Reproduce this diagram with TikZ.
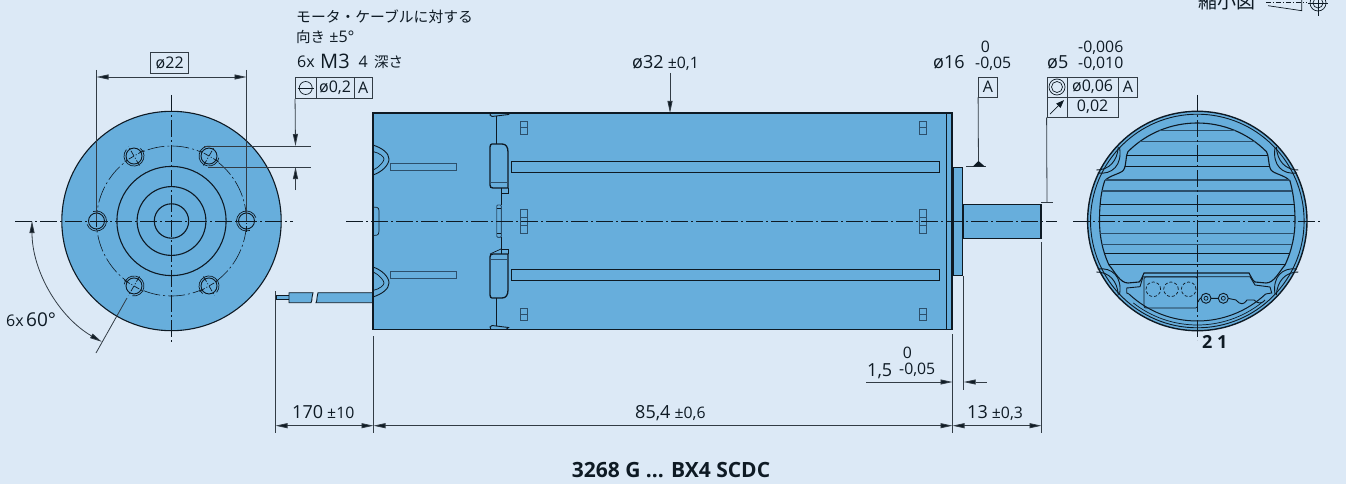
\documentclass[tikz,border=0pt]{standalone}
\usepackage{fontspec}
\setmainfont{Open Sans}
\newfontfamily\jpfont{Noto Sans CJK JP}
\usetikzlibrary{arrows.meta,calc,positioning}
\definecolor{sheet}{HTML}{DCE9F6}
\definecolor{motor}{HTML}{67AEDC}
\definecolor{ink}{HTML}{0E1A24}
\definecolor{fingray}{HTML}{2C4F6B}
\newcommand{\nomval}[1]{{\fontsize{18}{18}\selectfont #1}}
\newcommand{\tolval}[1]{{\fontsize{15.8}{16}\selectfont #1}}
\newcommand{\finpath}{(1127.9,151.7) arc[start angle=135,end angle=45,radius=98pt]
  .. controls (1269,155) and (1268,165) .. (1271,170) .. controls (1274,174) and (1285,175) .. (1290,181)
  .. controls (1294,195) and (1295,210) .. (1295,221) .. controls (1295,235) and (1292,250) .. (1285,265)
  .. controls (1279,272) and (1274,283) .. (1266,283) -- (1255,282) .. controls (1252,280) and (1251,276) .. (1249,273)
  -- (1144,273) .. controls (1142,276) and (1142,280) .. (1139,282) -- (1128,283)
  .. controls (1120,283) and (1115,272) .. (1109,265) .. controls (1102,250) and (1099.5,235) .. (1099.5,221)
  .. controls (1099.5,210) and (1100,195) .. (1104.6,181) .. controls (1109.6,175) and (1120.6,174) .. (1123.6,170)
  .. controls (1126.6,165) and (1125.6,155) .. (1127.9,151.7) -- cycle}
\tikzset{
  part/.style={draw=ink,line width=0.9pt,fill=motor},
  outline/.style={draw=ink,line width=1.1pt},
  thinline/.style={draw=ink,line width=0.7pt},
  dimline/.style={draw=ink!85,line width=0.8pt},
  dimtip/.style={-{Triangle[length=12pt,width=5pt,fill=ink]}},
  dimtips/.style={{Triangle[length=12pt,width=5pt,fill=ink]}-{Triangle[length=12pt,width=5pt,fill=ink]}},
  axisline/.style={draw=ink,line width=0.7pt,dash pattern=on 17pt off 3pt on 2pt off 3pt},
  dimtext/.style={inner sep=0pt,text=ink,anchor=base west,font=\fontsize{16}{16}\selectfont},
  framecell/.style={draw=ink!85,line width=0.8pt,inner sep=0pt,minimum height=21pt,text=ink,font=\fontsize{16}{16}\selectfont},
}
\begin{document}
\begin{tikzpicture}[x=1pt,y=-1pt]
  \path[use as bounding box,fill=sheet] (0,0) rectangle (1346,484);
  \coordinate (fc) at (171.5,221);
  \coordinate (rc) at (1197.3,221);
%
  % front view
  \draw[part,line width=1.1pt] (fc) circle[radius=109.7pt];
  \foreach \r in {54.6,34.4,17.2} {
    \draw[outline] (fc) circle[radius=\r pt];
  }
  \draw[axisline,line width=0.6pt] (fc) circle[radius=75pt];
  \foreach \a in {0,60,...,300} {
    \coordinate (hole\a) at ($(fc)+(\a:75pt)$);
    \draw[part] (hole\a) circle[radius=8pt];
    \draw[thinline] ($(hole\a)+(\a+20:10pt)$) arc[start angle=\a+20,end angle=\a+290,radius=10pt];
    \draw[thinline,dash pattern=on 6pt off 2pt on 1pt off 2pt] ($(hole\a)+(\a:-11pt)$) -- ($(hole\a)+(\a:11pt)$);
    \draw[thinline,dash pattern=on 6pt off 2pt on 1pt off 2pt] ($(hole\a)+(\a+90:-11pt)$) -- ($(hole\a)+(\a+90:11pt)$);
  }
  \draw[axisline] (15,221) -- (293,221);
  \draw[axisline] (171.5,95) -- (171.5,343);
%
  % cable
  \draw[part] (276,295.7) rectangle (289,299.3);
  \draw[part] (289,292.7) -- (313,292.7) .. controls (311,296) and (313,299) .. (311,302.7) -- (289,302.7) -- cycle;
  \draw[part] (318,292.7) -- (373,292.7) -- (373,302.7) -- (316,302.7) .. controls (318,299) and (316,296) .. (318,292.7) -- cycle;
%
  % shaft, flange, body
  \draw[part] (963,204) rectangle (1041,238);
  \draw[outline,line width=1.6pt] (1041,204) -- (1041,238);
  \draw[part] (953,167) rectangle (962.7,275);
  \draw[part,line width=1.1pt] (373,113) rectangle (952,329.5);
  \draw[outline,line width=2pt] (373,113) -- (373,326);
  \draw[outline,line width=0.9pt] (946,113) -- (946,329.5);
  \foreach \m in {1,-1} {
    \begin{scope}[shift={(0,221)},yscale=\m]
      \draw[thinline,line width=0.9pt] (373,-76) .. controls (382,-73) and (389,-68) .. (389,-62) .. controls (389,-56) and (382,-49) .. (373,-46);
      \draw[thinline] (373,-69.5) .. controls (380,-68) and (384,-64) .. (384,-62) .. controls (384,-60) and (380,-54) .. (373,-51);
      \draw[thinline,draw=fingray,line width=1pt] (390.5,-57.5) rectangle (456.5,-50.5);
      \draw[thinline,line width=0.9pt] (511,-59.7) rectangle (939,-48.7);
      \foreach \x in {520,919.5} {
        \draw[thinline,draw=fingray,line width=0.9pt] (\x,-99.5) rectangle ++(7,12.5);
        \draw[thinline,draw=fingray] (\x,-93.2) -- ++(7,0);
      }
      \draw[thinline,line width=0.9pt] (491,-108.5) -- (506,-108.5) -- (508.5,-106.5) -- (492,-104.5) -- (490,-106) -- cycle;
      \draw[thinline,line width=1pt] (496,-104.5) -- (496,-77);
      \draw[outline,line width=1.3pt] (492,-77) -- (502,-77) .. controls (506,-77) and (508,-74) .. (508,-69) -- (508,-33) -- (493,-33) .. controls (491,-33) and (490,-34) .. (490,-36) -- (490,-74) .. controls (490,-76) and (491,-77) .. (492,-77) -- cycle;
      \draw[thinline,draw=fingray,line width=1pt] (490,-38.5) -- (508,-38.5);
      \draw[thinline] (501,-33) -- (501,-28) -- (508,-28) -- (508,-33);
      \draw[thinline,line width=1pt] (501,-28) -- (501,-16);
    \end{scope}
  }
  \draw[thinline] (490,254) -- (501,249);
  \draw[thinline,rounded corners=1pt] (373,207) -- (378,207.5) -- (379,210) -- (379,232) -- (378,235) -- (373,235.5);
  \draw[thinline,draw=fingray,line width=0.9pt,rounded corners=1pt] (496.7,205) rectangle (501.3,237.3);
  \draw[thinline] (496.7,208.5) -- (501.3,208.5) (496.7,233.5) -- (501.3,233.5);
  \foreach \x in {520,919.5} {
    \draw[thinline,draw=fingray,line width=0.9pt] (\x,209) rectangle ++(7,24.5);
    \draw[thinline,draw=fingray] (\x,217) -- ++(7,0) (\x,225.3) -- ++(7,0);
  }
  \draw[axisline] (346,221) -- (1057,221);
%
  % rear view
  \draw[part,line width=1.4pt] (rc) circle[radius=109.7pt];
  \draw[outline,line width=0.9pt] (rc) circle[radius=106.8pt];
  \draw[thinline] ($(rc)+(-128:104pt)$) arc[start angle=-128,end angle=-52,radius=104pt];
  \draw[outline] \finpath;
  \begin{scope}
    \clip \finpath;
    \foreach \y in {130.7,141.7,180,191,233.7,244.7} {
      \draw[draw=fingray,line width=1.1pt] (1090,\y) -- (1305,\y);
    }
    \foreach \y in {155,166,204.3,215.7,253.3,264.3} {
      \draw[draw=ink,line width=0.8pt] (1090,\y) -- (1305,\y);
    }
  \end{scope}
  \foreach \sx/\sy in {1/1,-1/1,1/-1,-1/-1} {
    \begin{scope}[shift={(rc)},xscale=\sx,yscale=\sy]
      \draw[thinline,line width=0.9pt] (77.7,-73) .. controls (75,-56) and (85,-46) .. (99.7,-48);
      \draw[thinline,line width=0.9pt] (79,-74) .. controls (80,-60) and (88,-51) .. (101,-51);
    \end{scope}
  }
  \draw[thinline,line width=0.9pt] (1129,294) -- (1126.7,293) -- (1126.7,288) -- (1140,286.7) -- (1143,276.7) -- (1250,276.7) -- (1255,285) -- (1270,287) -- (1271.7,293) -- (1265.5,294);
  \draw[outline,line width=1pt] ($(rc)+(-133:100pt)$) arc[start angle=-133,end angle=-47,radius=100pt];
  \draw[thinline,rounded corners=2pt] (1144,277) rectangle (1197.5,308);
  \foreach \x in {1153.3,1171,1188.7} {
    \draw[thinline,dash pattern=on 3pt off 2pt] (\x,289.3) circle[radius=7.3pt];
  }
  \draw[thinline,line width=0.9pt] (1198,302) .. controls (1200,297) and (1201,298) .. (1206,298.3) -- (1223.3,298.3) .. controls (1232,298) and (1232,300) .. (1236,300) .. controls (1240,305) and (1244,305) .. (1247,300) -- (1254,300) .. controls (1258,304) and (1262,304) .. (1265,300);
  \foreach \x in {1206,1223.3} {
    \draw[part,line width=0.9pt] (\x,298.3) circle[radius=5pt];
    \draw[thinline] (\x,298.3) circle[radius=2pt];
  }
  \draw[axisline] (1073,221) -- (1322,221);
  \draw[axisline] (1197.3,95) -- (1197.3,340);
  \node[dimtext,font=\bfseries\fontsize{18}{18}\selectfont] (pins) at (1202,348) {2 1};
%
  % dimension: hole circle
  \coordinate (d22l) at (96.5,77);
  \coordinate (d22r) at (246.5,77);
  \draw[dimline] (96.5,70) -- (hole180);
  \draw[dimline] (246.5,70) -- (hole0);
  \draw[dimline,dimtips] (d22l) -- (d22r);
  \node[framecell,minimum width=38pt] (box22) at (169.7,63) {ø22};
%
  % dimension: angle
  \coordinate (tip180) at (32,221);
  \draw[dimline,dimtips] (tip180) arc[start angle=180,end angle=240,radius=139.5pt];
  \draw[dimline] (127,298) -- (96,353);
  \node[dimtext] (angle6x) at (6,326) {6x};
  \node[dimtext,font=\fontsize{19}{20}\selectfont] (angle60) at (26,326) {60°};
%
  % thread callout
  \node[dimtext,font=\jpfont\fontsize{14.8}{15}\selectfont] (note1) at (296,23) {モータ・ケーブルに対する};
  \node[dimtext] (note2) at (296,43) {{\jpfont\fontsize{14.5}{15}\selectfont 向き} ±5°};
  \node[dimtext] (thr6x) at (297,68) {6x};
  \node[dimtext,font=\fontsize{20}{20}\selectfont] (thrm3) at (320,68.5) {M3};
  \node[dimtext] (thr4) at (358.5,68) {4};
  \node[dimtext,font=\jpfont\fontsize{14.5}{15}\selectfont] (thrdepth) at (374,68) {深さ};
  \node[framecell,minimum width=20.5pt] (pos1) at (305.7,88) {};
  \node[framecell,minimum width=38pt,right=-0.7pt of pos1] (pos2) {ø0,2};
  \node[framecell,minimum width=18pt,right=-0.7pt of pos2] (pos3) {A};
  \draw[thinline] (pos1.center) circle[radius=6.5pt];
  \draw[thinline] ($(pos1.center)+(-8,0)$) -- ($(pos1.center)+(8,0)$);
  \coordinate (lead1) at (295.5,190);
  \coordinate (leadtop) at (295.5,146);
  \coordinate (leadbot) at (295.5,167);
  \draw[dimline,dimtip] (pos1.south west) -- (leadtop);
  \draw[dimline,dimtip] (lead1) -- (leadbot);
  \draw[dimline] (204,146) -- (311,146);
  \draw[dimline] (208,167) -- (311,167);
%
  % top dimensions
  \node[dimtext] (dia32) at (632,69) {\nomval{ø32} \tolval{±0,1}};
  \draw[dimline,dimtip] (670,73) -- (670,113);
  \node[dimtext] (dia16) at (933,69) {\nomval{ø16}};
  \node[dimtext,anchor=base] (dia16up) at (985.5,53) {\tolval{0}};
  \node[dimtext] (dia16lo) at (975,69) {\tolval{-0,05}};
  \node[framecell,minimum width=19pt,minimum height=20pt] (datum) at (988,87) {A};
  \coordinate (datumfoot) at (978.5,166.7);
  \draw[dimline] (datum.south west) -- (datumfoot);
  \draw[dimline] (966,166.7) -- (986,166.7);
  \fill[ink] (972.5,166.7) -- (978.5,161) -- (985,166.7) -- cycle;
  \node[dimtext] (dia5) at (1047,69) {\nomval{ø5}};
  \node[dimtext] (dia5up) at (1078,53) {\tolval{-0,006}};
  \node[dimtext] (dia5lo) at (1078,69) {\tolval{-0,010}};
  \node[framecell,minimum width=20pt,minimum height=20pt] (con1) at (1057,87) {};
  \node[framecell,minimum width=51pt,minimum height=20pt,right=-0.7pt of con1] (con2) {ø0,06};
  \node[framecell,minimum width=19.5pt,minimum height=20pt,right=-0.7pt of con2] (con3) {A};
  \node[framecell,minimum width=20pt,minimum height=20pt,below=-0.7pt of con1] (run1) {};
  \node[framecell,minimum width=51pt,minimum height=20pt,right=-0.7pt of run1] (run2) {0,02};
  \draw[thinline] (con1.center) circle[radius=8pt];
  \draw[thinline] (con1.center) circle[radius=5.5pt];
  \draw[thinline,-{Triangle[length=8pt,width=6pt,fill=ink]}] ($(run1.center)+(-7,7)$) -- ($(run1.center)+(7,-7)$);
  \coordinate (shaftend) at (1047,202.5);
  \draw[dimline] (run1.south west) -- (shaftend);
  \draw[dimline] (1041,202.5) -- (1053,202.5);
%
  % bottom dimensions
  \coordinate (d170l) at (275.5,425.7);
  \coordinate (d170r) at (373.5,425.7);
  \coordinate (d85r) at (952.5,425.7);
  \coordinate (d13r) at (1041.5,425.7);
  \coordinate (d15l) at (952.5,382);
  \coordinate (d15r) at (963.7,382);
  \draw[dimline] (275.5,291) -- (275.5,433);
  \draw[dimline] (373.5,336) -- (373.5,433);
  \draw[dimline] (952.5,334) -- (952.5,433);
  \draw[dimline] (963.7,276) -- (963.7,390);
  \draw[dimline] (1041.5,242) -- (1041.5,433);
  \draw[dimline,dimtips] (d170l) -- (d170r);
  \draw[dimline,dimtips] (d170r) -- (d85r);
  \draw[dimline,dimtips] (d85r) -- (d13r);
  \draw[dimline,dimtip] (866,382) -- (d15l);
  \draw[dimline,dimtip] (986.7,382) -- (d15r);
  \node[dimtext] (len170) at (292,418.5) {\nomval{170} \tolval{±10}};
  \node[dimtext] (len85) at (635,418.5) {\nomval{85,4} \tolval{±0,6}};
  \node[dimtext] (len13) at (967,418.5) {\nomval{13} \tolval{±0,3}};
  \node[dimtext] (len15) at (867,376) {\nomval{1,5}};
  \node[dimtext,anchor=base] (len15up) at (907.5,358.5) {\tolval{0}};
  \node[dimtext] (len15lo) at (899,374) {\tolval{-0,05}};
%
  % cut-off thumbnail at the top edge
  \node[dimtext,font=\jpfont\fontsize{19}{19}\selectfont] (thumb) at (1198,8.5) {縮小図};
  \draw[thinline] (1268,5.7) -- (1301.7,10.7) -- (1301.7,-2);
  \draw[thinline,dash pattern=on 5pt off 2pt on 1pt off 2pt] (1266,2) -- (1307,2);
  \draw[thinline] (1318,3) circle[radius=8pt];
  \draw[thinline] (1318,3) circle[radius=5pt];
  \draw[thinline] (1308,3) -- (1328,3);
  \draw[thinline] (1318,-4) -- (1318,16);
  \node[dimtext,font=\bfseries\fontsize{21}{21}\selectfont,anchor=base] (title) at (671,477.5) {3268 G ... BX4 SCDC};
\end{tikzpicture}
\end{document}
